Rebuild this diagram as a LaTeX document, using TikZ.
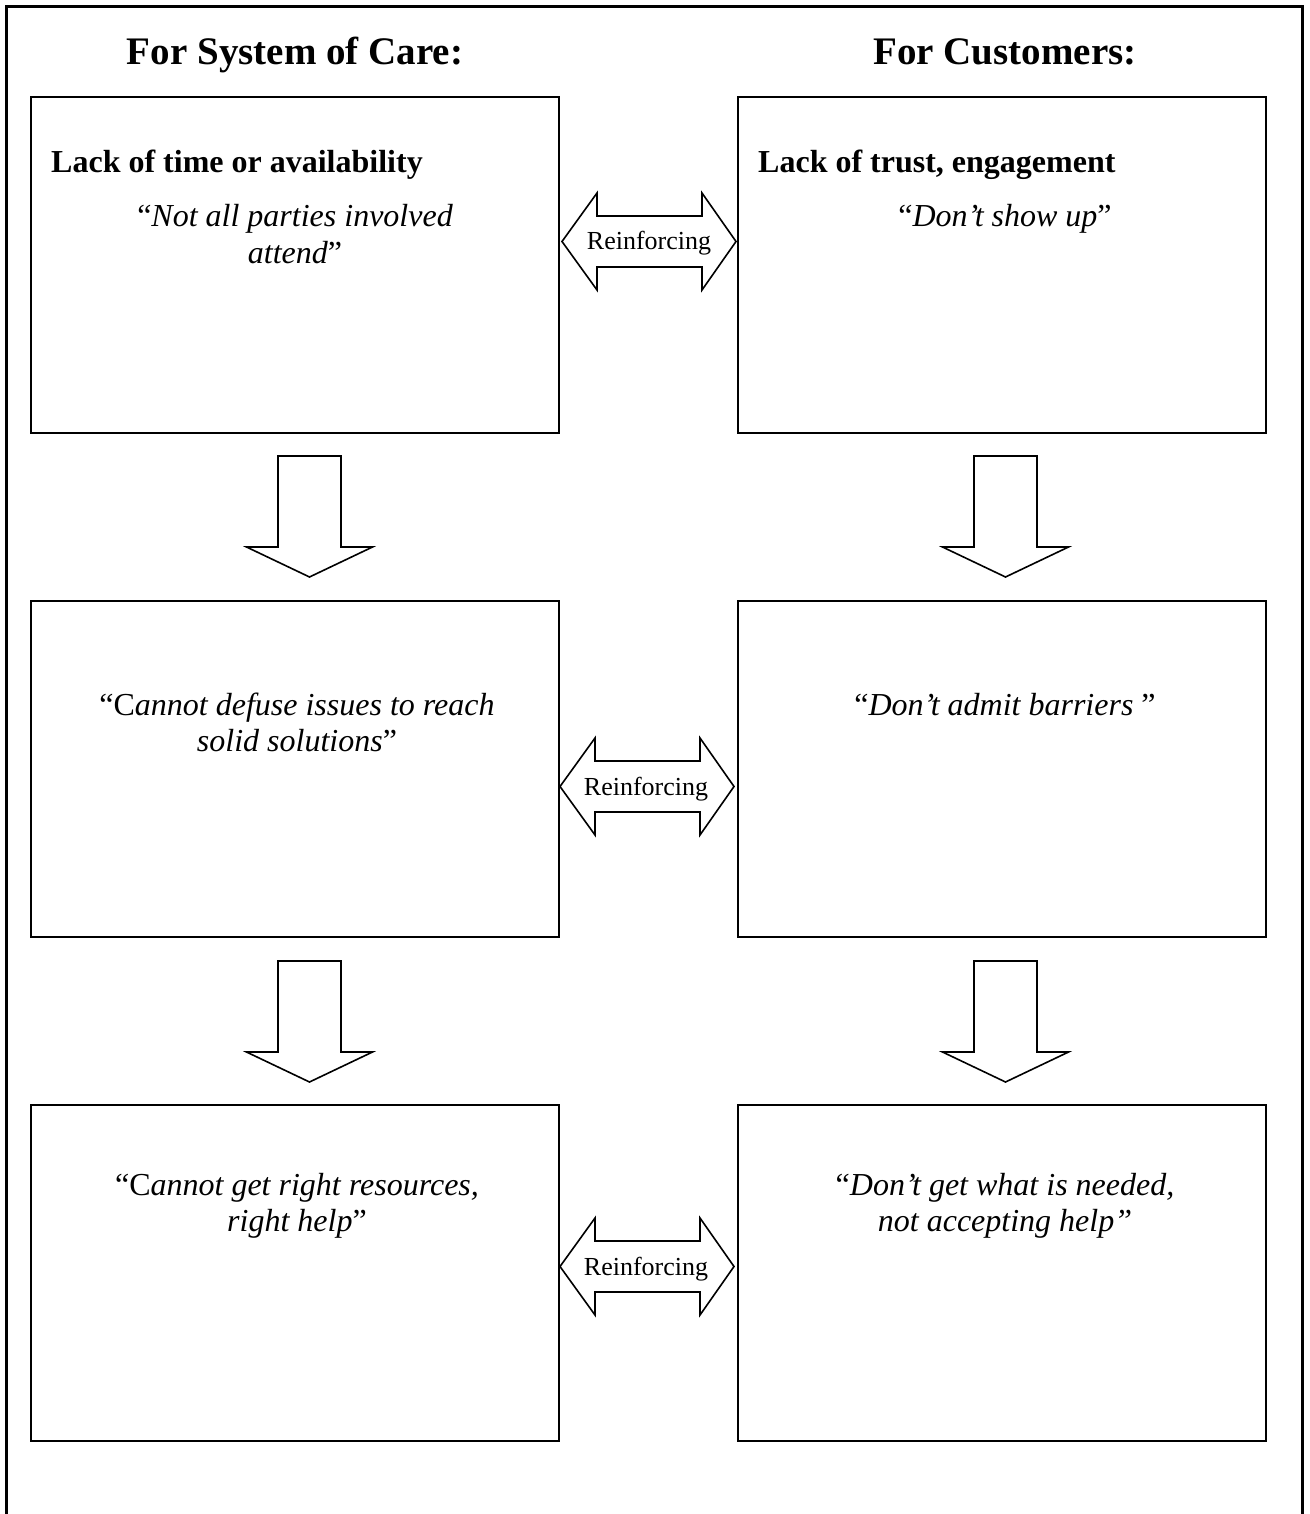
\documentclass[tikz,border=0pt]{standalone}
\usepackage{fontspec}
\setmainfont{Liberation Serif}
\begin{document}
\begin{tikzpicture}[x=1pt,y=-1pt,
  box/.style={draw, line width=2.4pt, minimum width=528pt, minimum height=336pt, inner sep=0pt},
  blk/.style={draw, line width=1.6pt, line join=miter, fill=white},
  ttl/.style={font=\fontsize{39}{44}\selectfont\bfseries, anchor=base, inner sep=0pt},
  hdr/.style={font=\fontsize{32}{36}\selectfont\bfseries, anchor=base west, inner sep=0pt},
  quo/.style={font=\fontsize{32}{36}\selectfont\itshape, anchor=base, inner sep=0pt},
  rnf/.style={font=\fontsize{26}{30}\selectfont, anchor=base, inner sep=0pt}]
\useasboundingbox (0,0) rectangle (1309,1514);
% outer frame (open at the bottom)
\draw[line width=3pt] (6.5,1514) -- (6.5,6.5) -- (1302.5,6.5) -- (1302.5,1514);
% titles
\node[ttl] (tl) at (295,65) {For System of Care:};
\node[ttl] (tr) at (1005,65) {For Customers:};
% boxes
\node[box] (b11) at (295,265) {};
\node[box] (b12) at (1002,265) {};
\node[box] (b21) at (295,769) {};
\node[box] (b22) at (1002,769) {};
\node[box] (b31) at (295,1273) {};
\node[box] (b32) at (1002,1273) {};
% texts row 1
\node[hdr] (h11) at (51,173) {Lack of time or availability};
\node[hdr] (h12) at (758,173) {Lack of trust, engagement};
\node[quo] (q11a) at (295,227) {{\upshape“}Not all parties involved};
\node[quo] (q11b) at (295,263) {attend{\upshape”}};
\node[quo] (q12a) at (1005,227) {{\upshape“}Don’t show up{\upshape”}};
% texts row 2
\node[quo] (q21a) at (297,715) {{\upshape“C}annot defuse issues to reach};
\node[quo] (q21b) at (297,751) {solid solutions{\upshape”}};
\node[quo] (q22a) at (1005,715) {{\upshape“}Don’t admit barriers {\upshape”}};
% texts row 3
\node[quo] (q31a) at (297,1195) {{\upshape“C}annot get right resources,};
\node[quo] (q31b) at (297,1231) {right help{\upshape”}};
\node[quo] (q32a) at (1005,1195) {{\upshape“}Don’t get what is needed,};
\node[quo] (q32b) at (1005,1231) {not accepting help”};
% down block arrows
\foreach \c/\t in {309.5/456, 1005.5/456, 309.5/961, 1005.5/961}{
  \draw[blk] (\c-31.5,\t) -- (\c+31.5,\t) -- (\c+31.5,\t+91) -- (\c+63,\t+91)
    -- (\c,\t+121) -- (\c-63,\t+91) -- (\c-31.5,\t+91) -- cycle;
}
% double block arrows
\foreach \L/\m in {562/241.5, 560/786.5, 560/1266.5}{
  \draw[blk] (\L,\m) -- (\L+35,\m-48.5) -- (\L+35,\m-25.5) -- (\L+140,\m-25.5)
    -- (\L+140,\m-48.5) -- (\L+174,\m) -- (\L+140,\m+48.5) -- (\L+140,\m+25.5)
    -- (\L+35,\m+25.5) -- (\L+35,\m+48.5) -- cycle;
}
\node[rnf] (r1) at (649,250) {Reinforcing};
\node[rnf] (r2) at (646,795) {Reinforcing};
\node[rnf] (r3) at (646,1275) {Reinforcing};
\end{tikzpicture}
\end{document}
